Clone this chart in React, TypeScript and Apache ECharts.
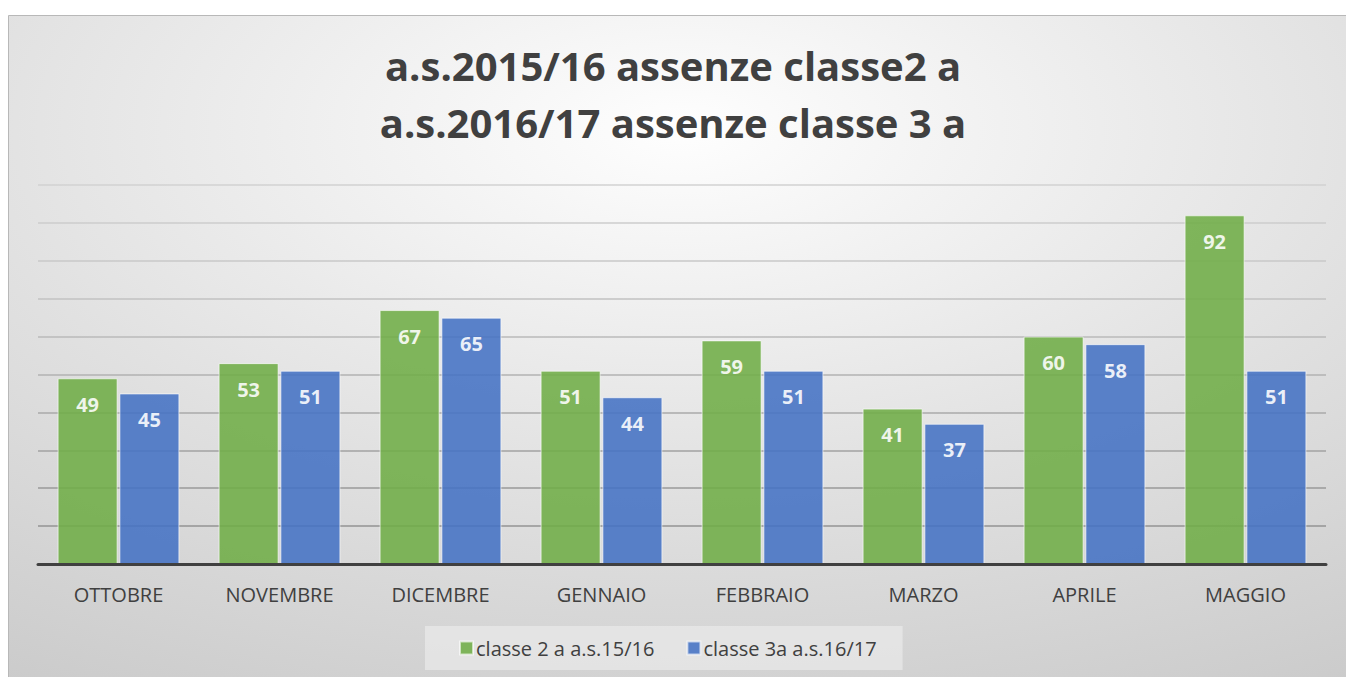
import React, { useEffect, useRef } from "react";
import * as echarts from "echarts";

const months = ["OTTOBRE", "NOVEMBRE", "DICEMBRE", "GENNAIO", "FEBBRAIO", "MARZO", "APRILE", "MAGGIO"];
const classe2 = [49, 53, 67, 51, 59, 41, 60, 92];
const classe3 = [45, 51, 65, 44, 51, 37, 58, 51];
const seriesNames = ["classe 2 a a.s.15/16", "classe 3a a.s.16/17"];
const titleText = "a.s.2015/16 assenze classe2 a\na.s.2016/17 assenze classe 3 a";

const FONT = "'Open Sans', Lato, sans-serif";

export default function App() {
  const ref = useRef<HTMLDivElement>(null);
  useEffect(() => {
    if (!ref.current) return;
    const chart = echarts.init(ref.current, undefined, { renderer: "svg" });
    const label = {
      show: true,
      position: "insideTop" as const,
      distance: 16,
      color: "#ffffff",
      fontSize: 20,
      fontWeight: "bold" as const,
      fontFamily: FONT,
    };
    chart.setOption({
      animation: false,
      backgroundColor: "#ffffff",
      graphic: [
        {
          type: "rect",
          z: -10,
          silent: true,
          shape: { x: 8.5, y: 15.5, width: 1345, height: 670 },
          style: {
            fill: {
              type: "radial",
              x: 0.5,
              y: 0.17,
              r: 1.1,
              colorStops: [
                { offset: 0, color: "#fefefe" },
                { offset: 0.5, color: "#e0e0e0" },
                { offset: 1, color: "#c4c4c4" },
              ],
            },
            stroke: "#b8b8b8",
            lineWidth: 1,
          },
        },
      ],
      title: {
        text: titleText,
        left: "center",
        top: 32,
        textStyle: {
          fontFamily: FONT,
          fontSize: 40,
          fontWeight: "bold",
          color: "#404040",
          lineHeight: 57,
        },
      },
      legend: {
        data: seriesNames,
        left: 425,
        top: 626,
        icon: "rect",
        itemWidth: 13,
        itemHeight: 13,
        itemGap: 32,
        padding: [12, 26, 12, 34],
        backgroundColor: "rgba(240,240,240,0.55)",
        textStyle: { fontFamily: FONT, fontSize: 20, color: "#404040", padding: [0, 0, 0, -2] },
      },
      grid: { left: 38, right: 20, top: 185, bottom: 113 },
      xAxis: {
        type: "category",
        data: months,
        axisLine: { show: true, lineStyle: { color: "#404040", width: 3 } },
        axisTick: { show: false },
        axisLabel: { fontFamily: FONT, fontSize: 20, color: "#404040", margin: 20 },
        z: 5,
      },
      yAxis: {
        type: "value",
        min: 0,
        max: 100,
        interval: 10,
        axisLabel: { show: false },
        axisLine: { show: false },
        axisTick: { show: false },
        splitLine: {
          show: true,
          lineStyle: {
            width: 1.5,
            color: ["#8c8c8c", "#939393", "#9a9a9a", "#a2a2a2", "#aaaaaa", "#b2b2b2", "#bababa", "#c2c2c2", "#c8c8c8", "#cdcdcd", "#d2d2d2"],
          },
        },
      },
      series: [
        {
          name: seriesNames[0],
          type: "bar",
          data: classe2,
          barWidth: 60,
          barGap: "3%",
          itemStyle: { color: "#70ad47", opacity: 0.88, borderColor: "rgba(255,255,255,0.7)", borderWidth: 1 },
          label,
        },
        {
          name: seriesNames[1],
          type: "bar",
          data: classe3,
          barWidth: 60,
          barGap: "3%",
          itemStyle: { color: "#4472c4", opacity: 0.88, borderColor: "rgba(255,255,255,0.7)", borderWidth: 1 },
          label,
        },
      ],
    });
    return () => chart.dispose();
  }, []);
  return <div ref={ref} style={{ position: "absolute", left: 0, top: 0, width: 1346, height: 677 }} />;
}
